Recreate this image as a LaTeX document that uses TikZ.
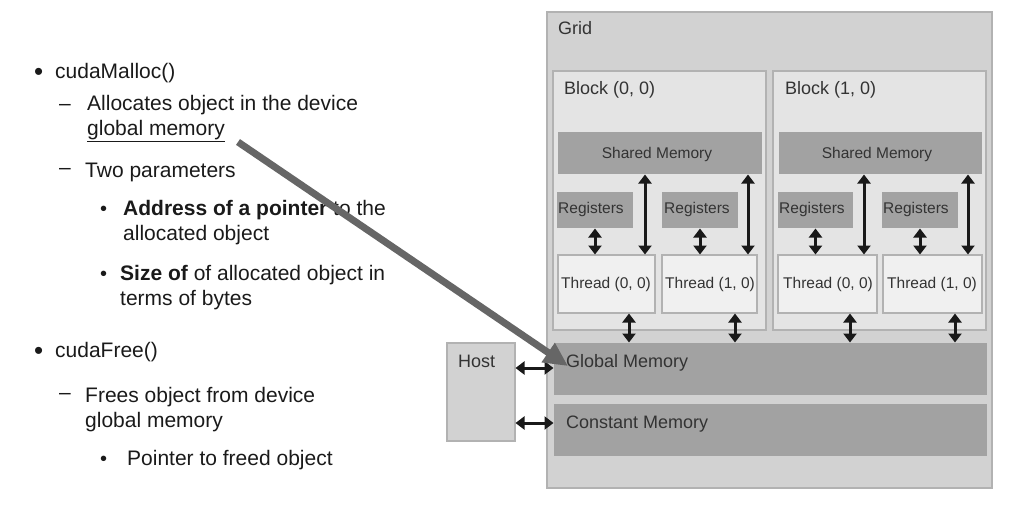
\documentclass[tikz,border=0pt]{standalone}
\usepackage{fontspec}
\setmainfont{Liberation Sans}
\usetikzlibrary{arrows.meta}
\definecolor{gridfill}{HTML}{D2D2D2}
\definecolor{blockfill}{HTML}{E4E4E4}
\definecolor{memfill}{HTML}{A2A2A2}
\definecolor{threadfill}{HTML}{F0F0F0}
\definecolor{edgecol}{HTML}{B2B2B2}
\definecolor{labelcol}{HTML}{333333}
\definecolor{bigarrow}{HTML}{666666}
\definecolor{txtcol}{HTML}{1A1A1A}
\tikzset{
  box/.style={draw=edgecol, line width=1.5pt, anchor=north west, inner sep=0pt, outer sep=0pt},
  membox/.style={fill=memfill, draw=none, anchor=north west, inner sep=0pt, outer sep=0pt},
  lbl/.style={anchor=base west, inner sep=0pt, text=labelcol, font=\fontsize{18}{21}\selectfont},
  small/.style={inner sep=0pt, text=labelcol, font=\fontsize{15.5}{18}\selectfont},
  body/.style={anchor=base west, inner sep=0pt, text=txtcol, font=\fontsize{21}{25}\selectfont},
  bigbul/.style={anchor=base west, inner sep=0pt, text=txtcol, font=\fontsize{26}{25}\selectfont},
  subbul/.style={anchor=base west, inner sep=0pt, text=txtcol, font=\fontsize{20}{25}\selectfont},
  dbl/.style={{Triangle[length=9pt,width=13pt]}-{Triangle[length=9pt,width=13pt]}, line width=3pt, black!90, shorten <=0.5pt, shorten >=0.5pt},
}
\begin{document}
\begin{tikzpicture}[x=1pt,y=-1pt]
\useasboundingbox (0,0) rectangle (1019,512);
% ---------- left text ----------
\node[bigbul] (b1) at (34,80) {\textbullet};
\node[body] (t1) at (55,78) {cudaMalloc()};
\node[body] (d1) at (59,110) {–};
\node[body] (t2) at (87,110) {Allocates object in the device};
\node[body] (t3) at (87,135) {\underline{global memory}};
\node[body] (d2) at (59,174) {–};
\node[body] (t4) at (85,177) {Two parameters};
\node[subbul] (b2) at (100,215) {\textbullet};
\node[body] (t5) at (123,215) {\textbf{Address of a pointer} to the};
\node[body] (t6) at (123,240) {allocated object};
\node[subbul] (b3) at (100,280) {\textbullet};
\node[body] (t7) at (120,280) {\textbf{Size of} of allocated object in};
\node[body] (t8) at (120,305) {terms of bytes};
\node[bigbul] (b4) at (34,359) {\textbullet};
\node[body] (t9) at (55,357) {cudaFree()};
\node[body] (d3) at (59,399) {–};
\node[body] (t10) at (85,402) {Frees object from device};
\node[body] (t11) at (85,427) {global memory};
\node[subbul] (b5) at (100,465) {\textbullet};
\node[body] (t12) at (127,465) {Pointer to freed object};
% ---------- grid ----------
\node[box, fill=gridfill, minimum width=445pt, minimum height=476pt] (grid) at (547,12) {};
\node[lbl] (gridl) at (558,34) {Grid};
% blocks
\node[box, fill=blockfill, minimum width=213pt, minimum height=259pt] (blk0) at (553,71) {};
\node[box, fill=blockfill, minimum width=213pt, minimum height=259pt] (blk1) at (773,71) {};
\node[lbl] (blk0l) at (564,94) {Block (0, 0)};
\node[lbl] (blk1l) at (785,94) {Block (1, 0)};
% shared memory
\node[membox, minimum width=204pt, minimum height=42pt] (sm0) at (558,132) {};
\node[membox, minimum width=203pt, minimum height=42pt] (sm1) at (779,132) {};
\node[small, anchor=base] (sm0l) at (657,158) {Shared Memory};
\node[small, anchor=base] (sm1l) at (877,158) {Shared Memory};
% registers
\node[membox, minimum width=76pt, minimum height=36pt] (r00) at (557,192) {};
\node[membox, minimum width=76pt, minimum height=36pt] (r01) at (662,192) {};
\node[membox, minimum width=75pt, minimum height=36pt] (r10) at (778,192) {};
\node[membox, minimum width=76pt, minimum height=36pt] (r11) at (882,192) {};
\node[small, anchor=base west] (r00l) at (558,213) {Registers};
\node[small, anchor=base west] (r01l) at (664,213) {Registers};
\node[small, anchor=base west] (r10l) at (779,213) {Registers};
\node[small, anchor=base west] (r11l) at (883,213) {Registers};
% threads
\node[box, fill=threadfill, line width=1.2pt, minimum width=97pt, minimum height=58pt] (th00) at (558,255) {};
\node[box, fill=threadfill, line width=1.2pt, minimum width=95pt, minimum height=58pt] (th01) at (662,255) {};
\node[box, fill=threadfill, line width=1.2pt, minimum width=99pt, minimum height=58pt] (th10) at (778,255) {};
\node[box, fill=threadfill, line width=1.2pt, minimum width=99pt, minimum height=58pt] (th11) at (883,255) {};
\node[small, anchor=base] (th00l) at (606,288) {Thread (0, 0)};
\node[small, anchor=base] (th01l) at (710,288) {Thread (1, 0)};
\node[small, anchor=base] (th10l) at (828,288) {Thread (0, 0)};
\node[small, anchor=base] (th11l) at (932,288) {Thread (1, 0)};
% global / constant memory
\node[membox, minimum width=433pt, minimum height=52pt] (gm) at (554,343) {};
\node[membox, minimum width=433pt, minimum height=52pt] (cm) at (554,404) {};
\node[lbl] (gml) at (566,367) {Global Memory};
\node[lbl] (cml) at (566,428) {Constant Memory};
% host
\node[box, fill=gridfill, minimum width=68pt, minimum height=98pt] (host) at (447,343) {};
\node[lbl] (hostl) at (458,367) {Host};
% ---------- arrows ----------
\coordinate (xa) at (645,0);
\coordinate (xb) at (748,0);
\coordinate (xc) at (864,0);
\coordinate (xd) at (968,0);
\coordinate (xe) at (629,0);
\coordinate (xf) at (735,0);
\coordinate (xg) at (850,0);
\coordinate (xh) at (955,0);
\coordinate (ya) at (0,368);
\coordinate (yb) at (0,423);
% registers <-> threads
\draw[dbl] (r00.south) -- (r00.south |- th00.north);
\draw[dbl] (r01.south) -- (r01.south |- th01.north);
\draw[dbl] (r10.south) -- (r10.south |- th10.north);
\draw[dbl] (r11.south) -- (r11.south |- th11.north);
% shared <-> threads
\draw[dbl] (sm0.south -| xa) -- (th00.north -| xa);
\draw[dbl] (sm0.south -| xb) -- (th01.north -| xb);
\draw[dbl] (sm1.south -| xc) -- (th10.north -| xc);
\draw[dbl] (sm1.south -| xd) -- (th11.north -| xd);
% threads <-> global
\draw[dbl] (th00.south -| xe) -- (gm.north -| xe);
\draw[dbl] (th01.south -| xf) -- (gm.north -| xf);
\draw[dbl] (th10.south -| xg) -- (gm.north -| xg);
\draw[dbl] (th11.south -| xh) -- (gm.north -| xh);
% host <-> memories
\draw[dbl] (host.east |- ya) -- (gm.west |- ya);
\draw[dbl] (host.east |- yb) -- (cm.west |- yb);
% big arrow
\coordinate (bs) at (238,142);
\coordinate (be) at (568,366);
\draw[bigarrow, line width=7pt, -{Triangle[length=24pt,width=22pt]}] (bs) -- (be);
\end{tikzpicture}
\end{document}
